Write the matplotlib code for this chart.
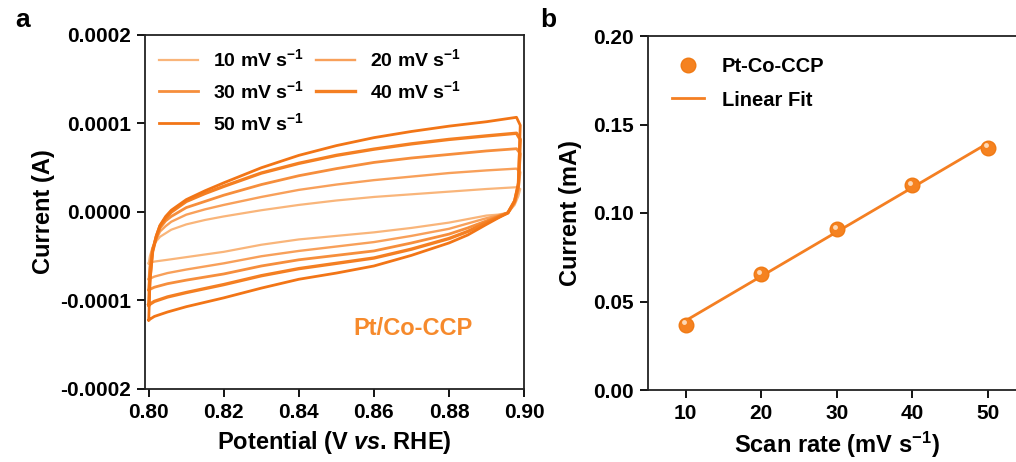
import numpy as np
import matplotlib
matplotlib.use('Agg')
import matplotlib.pyplot as plt
import matplotlib.ticker as mtick
import matplotlib.transforms as mtrans

plt.rcParams['font.family'] = ['Liberation Sans', 'DejaVu Sans']
plt.rcParams['font.weight'] = 'bold'
plt.rcParams['axes.labelweight'] = 'bold'
plt.rcParams['mathtext.fontset'] = 'custom'
plt.rcParams['mathtext.rm'] = 'Liberation Sans:bold'
plt.rcParams['mathtext.bf'] = 'Liberation Sans:bold'
plt.rcParams['mathtext.it'] = 'Liberation Sans:bold:italic'

# ---- panel a: CV loops, current in units of 1e-4 A ----
rates = [10, 20, 30, 40, 50]
x_up = [0.800, 0.8003, 0.801, 0.802, 0.803, 0.8045, 0.806, 0.808, 0.81, 0.815,
        0.82, 0.83, 0.84, 0.85, 0.86, 0.87, 0.88, 0.89, 0.898, 0.899]
x_low = [0.899, 0.8985, 0.8975, 0.8957, 0.893, 0.89, 0.885, 0.88, 0.87, 0.86,
         0.85, 0.84, 0.83, 0.82, 0.81, 0.805, 0.8015, 0.800]

up_10 = [-0.58, -0.50, -0.40, -0.33, -0.28, -0.24, -0.20, -0.17, -0.14, -0.09,
         -0.05, 0.02, 0.08, 0.13, 0.17, 0.20, 0.23, 0.26, 0.28, 0.26]
low_10 = [0.26, 0.18, 0.08, -0.01, -0.03, -0.04, -0.08, -0.12, -0.18, -0.23,
          -0.27, -0.31, -0.37, -0.45, -0.51, -0.54, -0.56, -0.58]
up_20 = [-0.76, -0.60, -0.42, -0.31, -0.22, -0.16, -0.11, -0.07, -0.03, 0.03,
         0.08, 0.17, 0.25, 0.31, 0.36, 0.40, 0.44, 0.47, 0.49, 0.45]
low_20 = [0.45, 0.24, 0.10, -0.01, -0.04, -0.07, -0.13, -0.19, -0.27, -0.34,
          -0.39, -0.44, -0.50, -0.58, -0.65, -0.69, -0.73, -0.76]
up_30 = [-0.88, -0.65, -0.42, -0.29, -0.18, -0.10, -0.05, 0.00, 0.05, 0.12,
         0.19, 0.31, 0.41, 0.49, 0.56, 0.61, 0.65, 0.69, 0.715, 0.66]
low_30 = [0.66, 0.27, 0.11, -0.01, -0.05, -0.10, -0.18, -0.25, -0.35, -0.44,
          -0.49, -0.54, -0.61, -0.70, -0.77, -0.81, -0.85, -0.88]
up_40 = [-1.05, -0.75, -0.45, -0.28, -0.16, -0.07, 0.00, 0.06, 0.12, 0.21,
         0.29, 0.44, 0.55, 0.64, 0.71, 0.77, 0.82, 0.86, 0.89, 0.82]
low_40 = [0.82, 0.30, 0.12, -0.01, -0.06, -0.12, -0.22, -0.30, -0.42, -0.52,
          -0.58, -0.64, -0.72, -0.82, -0.91, -0.96, -1.01, -1.05]
up_50 = [-1.22, -0.80, -0.45, -0.27, -0.15, -0.05, 0.02, 0.08, 0.14, 0.24,
         0.33, 0.50, 0.64, 0.75, 0.84, 0.91, 0.97, 1.02, 1.07, 0.98]
low_50 = [0.98, 0.33, 0.13, -0.01, -0.07, -0.14, -0.26, -0.35, -0.49, -0.61,
          -0.69, -0.76, -0.86, -0.97, -1.07, -1.13, -1.18, -1.22]

cv_up = [up_10, up_20, up_30, up_40, up_50]
cv_low = [low_10, low_20, low_30, low_40, low_50]
cv_colors = ['#F9B57A', '#F8A05A', '#F68E3C', '#F47F22', '#F27516']
cv_widths = [1.6, 1.7, 2.0, 2.4, 2.0]

# ---- panel b: capacitive current vs scan rate ----
scan_rate = [10, 20, 30, 40, 50]
current_mA = [0.037, 0.0655, 0.091, 0.116, 0.137]

W, H = 1016, 462
fig = plt.figure(figsize=(W / 100, H / 100), dpi=100)

ax1 = fig.add_axes([145 / W, 1 - 389 / H, 379 / W, 354 / H])
for r, yu, yl, c, lw in zip(rates, cv_up, cv_low, cv_colors, cv_widths):
    xs = np.array(x_up + x_low)
    ys = np.array(yu + yl) * 1e-4
    ax1.plot(xs, ys, color=c, lw=lw, label=r'%d mV s$^{-1}$' % r)

ax1.set_xlim(0.799, 0.900)
ax1.set_ylim(-0.0002, 0.0002)
ax1.set_xticks([0.80, 0.82, 0.84, 0.86, 0.88, 0.90])
ax1.set_yticks([-0.0002, -0.0001, 0.0, 0.0001, 0.0002])
ax1.xaxis.set_major_formatter(mtick.FormatStrFormatter('%.2f'))
ax1.yaxis.set_major_formatter(mtick.FormatStrFormatter('%.4f'))
ax1.set_xlabel(r'Potential (V $\mathit{vs}$. RHE)', fontsize=17, fontweight='bold', labelpad=5)
ax1.set_ylabel('Current (A)', fontsize=17, fontweight='bold', labelpad=4)
ax1.text(0.80 + 0.0545, -0.000132, 'Pt/Co-CCP', color='#F68A2C', fontsize=17,
         fontweight='bold', ha='left', va='center')

h, l = ax1.get_legend_handles_labels()
order = [0, 2, 4, 1, 3]
ax1.legend([h[i] for i in order], [l[i] for i in order], ncol=2, loc='upper left',
           frameon=False, fontsize=14, handlelength=2.0, handletextpad=0.8,
           columnspacing=0.6, labelspacing=0.5, borderaxespad=0.3,
           bbox_to_anchor=(0.0, 1.0))

ax2 = fig.add_axes([648 / W, 1 - 390 / H, 377.5 / W, 354 / H])
slope, intercept = np.polyfit(scan_rate, current_mA, 1)
fit_x = np.array([scan_rate[0], scan_rate[-1]])
ax2.plot(fit_x, slope * fit_x + intercept, color='#F47F22', lw=2.0, label='Linear Fit')
ax2.plot(scan_rate, current_mA, 'o', color='#F58220', mec='#F07A14', ms=10.5,
         label='Pt-Co-CCP', zorder=3)
hl = mtrans.offset_copy(ax2.transData, fig=fig, x=-1.5, y=1.5, units='points')
ax2.plot(scan_rate, current_mA, 'o', color='#FFE3C8', mec='none', ms=3.5,
         transform=hl, zorder=4, alpha=0.9)
ax2.set_xlim(5, 55)
ax2.set_ylim(0, 0.20)
ax2.set_xticks([10, 20, 30, 40, 50])
ax2.set_yticks([0.00, 0.05, 0.10, 0.15, 0.20])
ax2.yaxis.set_major_formatter(mtick.FormatStrFormatter('%.2f'))
ax2.set_xlabel(r'Scan rate (mV s$^{-1}$)', fontsize=17, fontweight='bold', labelpad=5)
ax2.set_ylabel('Current (mA)', fontsize=17, fontweight='bold', labelpad=8)
h2, l2 = ax2.get_legend_handles_labels()
ax2.legend([h2[1], h2[0]], [l2[1], l2[0]], loc='upper left', frameon=False,
           fontsize=14.5, handlelength=1.6, handletextpad=0.9, labelspacing=0.7,
           borderaxespad=0.4, bbox_to_anchor=(0.02, 0.985))

for ax in (ax1, ax2):
    for s in ax.spines.values():
        s.set_linewidth(1.3)
        s.set_color('#222222')
    ax.tick_params(direction='out', length=6, width=1.3, labelsize=15,
                   top=False, right=False, pad=4)
    for t in ax.get_xticklabels() + ax.get_yticklabels():
        t.set_fontweight('bold')

fig.text(15 / W, 1 - 20 / H, 'a', fontsize=19, fontweight='bold', va='center', ha='left')
fig.text(540 / W, 1 - 20 / H, 'b', fontsize=19, fontweight='bold', va='center', ha='left')

fig.savefig('out.png', dpi=100)
